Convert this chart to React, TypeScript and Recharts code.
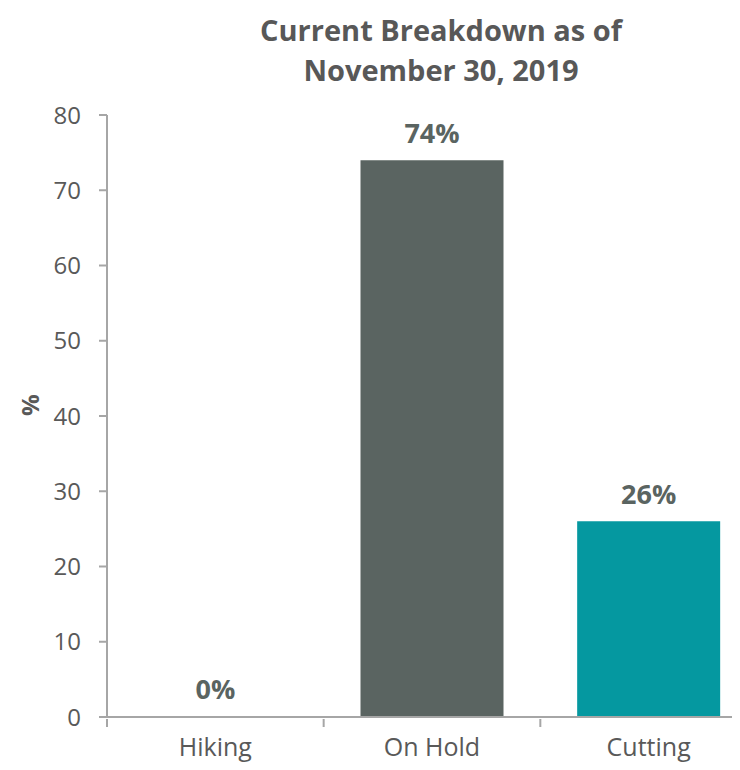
import { BarChart, Bar, XAxis, YAxis, Cell, LabelList } from "recharts";

const categories = ["Hiking", "On Hold", "Cutting"];
const shares = [0, 74, 26];
const barColors = ["#5a6461", "#5a6461", "#0598a0"];
const yTicks = [0, 10, 20, 30, 40, 50, 60, 70, 80];

const data = categories.map((name, i) => ({ name, value: shares[i] }));

const CHART_W = 752;
const CHART_H = 800;
const Y_AXIS_W = 99;
const MARGIN = { top: 107, right: 3, bottom: 31, left: 0 };
const PLOT_W = CHART_W - Y_AXIS_W - MARGIN.left - MARGIN.right;
const band = PLOT_W / categories.length;

const axisGrey = "#a6a6a6";
const textGrey = "#595959";

const CategoryTick = (props: any) => {
  const { x, y, payload } = props;
  return (
    <g>
      <line x1={x - band / 2} x2={x - band / 2} y1={y} y2={y + 8} stroke={axisGrey} strokeWidth={2} />
      <text x={x} y={y + 37} textAnchor="middle" fill={textGrey} fontSize={25}>
        {payload.value}
      </text>
    </g>
  );
};

const App = () => (
  <div
    style={{
      position: "relative",
      width: 732,
      height: 762,
      marginBottom: -8,
      overflow: "hidden",
      fontFamily: "'Open Sans', sans-serif",
    }}
  >
    <div
      style={{
        position: "absolute",
        top: 2,
        left: 213,
        width: 440,
        textAlign: "center",
        fontSize: 29,
        fontWeight: 700,
        lineHeight: "40px",
        color: "#585858",
      }}
    >
      Current Breakdown as of
      <br />
      November 30, 2019
    </div>
    <BarChart width={CHART_W} height={CHART_H} data={data} margin={MARGIN} barCategoryGap="17%">
      <XAxis
        dataKey="name"
        height={60}
        tickLine={false}
        tickSize={0}
        axisLine={{ stroke: axisGrey, strokeWidth: 2 }}
        tick={<CategoryTick />}
        interval={0}
      />
      <YAxis
        width={Y_AXIS_W}
        domain={[0, 80]}
        ticks={yTicks}
        interval={0}
        tickSize={8}
        tickMargin={18}
        axisLine={{ stroke: axisGrey, strokeWidth: 2 }}
        tickLine={{ stroke: axisGrey, strokeWidth: 2 }}
        tick={{ fill: textGrey, fontSize: 24 }}
        label={{
          value: "%",
          angle: -90,
          position: "insideLeft",
          offset: 22,
          fill: textGrey,
          fontSize: 24,
          fontWeight: 700,
        }}
      />
      <Bar dataKey="value" isAnimationActive={false} minPointSize={1}>
        {data.map((d, i) => (
          <Cell key={d.name} fill={d.value === 0 ? "none" : barColors[i]} />
        ))}
        <LabelList
          dataKey="value"
          position="top"
          offset={17}
          formatter={(v: any) => `${v}%`}
          fill="#5a6461"
          fontSize={27}
          fontWeight={700}
        />
      </Bar>
    </BarChart>
  </div>
);

export default App;
